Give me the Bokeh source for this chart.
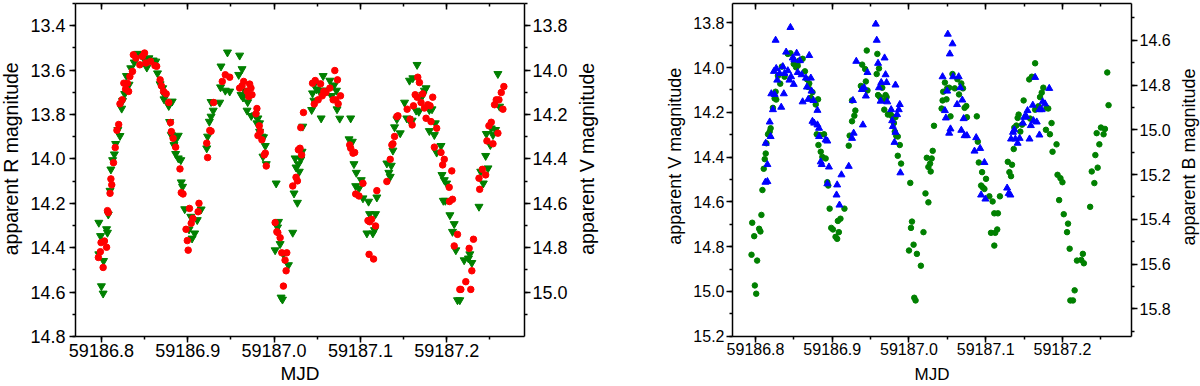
import math
from bokeh.plotting import figure
from bokeh.models import (Range1d, LinearAxis, SingleIntervalTicker, PrintfTickFormatter,
                          CustomJSTickFormatter, Label)
from bokeh.layouts import row
from bokeh.embed import file_html
from bokeh.resources import INLINE

FONT = "Liberation Sans"
H = 386

# ---------------- Left panel: R (red circles) and V (green down-triangles)
left_R_mjd = [
    59186.7965, 59186.7988, 59186.7996, 59186.8035, 59186.8060, 59186.8020, 59186.8070, 59186.8080,
    59186.8100, 59186.8120, 59186.8110, 59186.8140, 59186.8160, 59186.8180, 59186.8200, 59186.8215,
    59186.8240, 59186.8260, 59186.8280, 59186.8315, 59186.8300, 59186.8330, 59186.8360, 59186.8370,
    59186.8400, 59186.8445, 59186.8475, 59186.8500, 59186.8515, 59186.8570, 59186.8620, 59186.8640,
    59186.8680, 59186.8695, 59186.8720, 59186.8750, 59186.8780, 59186.8800, 59186.8810, 59186.8830,
    59186.8860, 59186.8910, 59186.8925, 59186.8945, 59186.9020, 59186.9130, 59186.9120, 59186.9040,
    59186.9060, 59186.8980, 59186.8995, 59186.9005, 59186.9230, 59186.9220, 59186.9255, 59186.9270,
    59186.9300, 59186.9400, 59186.9435,
    59186.9486, 59186.9601, 59186.9629, 59186.9648, 59186.9687, 59186.9717, 59186.9732, 59186.9744,
    59186.9706, 59186.9801, 59186.9790, 59186.9828, 59186.9840, 59186.9813, 59186.9859, 59186.9886,
    59186.9898, 59186.9909, 59187.0012, 59187.0032, 59187.0043, 59187.0070, 59187.0089, 59187.0147,
    59187.0127, 59187.0139, 59187.0108, 59187.0216, 59187.0254, 59187.0270, 59187.0281, 59187.0300,
    59187.0319, 59187.0309, 59187.0340, 59187.0445, 59187.0476, 59187.0465, 59187.0510, 59187.0538,
    59187.0557, 59187.0576, 59187.0600, 59187.0646, 59187.0703, 59187.0734, 59187.0684, 59187.0714,
    59187.0742, 59187.0769, 59187.0876, 59187.0887, 59187.0914, 59187.0933, 59187.0945, 59187.0983,
    59187.1029, 59187.1087, 59187.1106, 59187.1129, 59187.1100, 59187.1152, 59187.1175, 59187.1190,
    59187.1306, 59187.1345, 59187.1364, 59187.1376, 59187.1395, 59187.1422, 59187.1434, 59187.1541,
    59187.1599, 59187.1575, 59187.1614, 59187.1634, 59187.1656, 59187.1664, 59187.1683, 59187.1702,
    59187.1722, 59187.1741, 59187.1760, 59187.1780, 59187.1806, 59187.1837, 59187.1817, 59187.1856,
    59187.1883, 59187.1933, 59187.1952, 59187.1971, 59187.2058, 59187.2031, 59187.2066, 59187.2028,
    59187.2086, 59187.2124, 59187.2151, 59187.2163, 59187.2220, 59187.2259, 59187.2309, 59187.2290,
    59187.2278, 59187.2373, 59187.2381, 59187.2412, 59187.2450, 59187.2465, 59187.2488, 59187.2515,
    59187.2535, 59187.2592, 59187.2553, 59187.2573, 59187.2604, 59187.2650, 59187.2631, 59187.2661,
]
left_R_mag = [
    14.444, 14.418, 14.377, 14.370, 14.398, 14.489, 14.233, 14.242,
    14.155, 14.117, 14.090, 14.017, 13.949, 13.871, 13.845, 13.752,
    13.734, 13.659, 13.686, 13.696, 13.659, 13.629, 13.606, 13.531,
    13.546, 13.576, 13.538, 13.523, 13.568, 13.561, 13.580, 13.583,
    13.644, 13.671, 13.696, 13.707, 13.746, 13.836, 13.877, 13.907,
    13.947, 14.045, 14.152, 14.158, 14.223, 14.200, 14.238, 14.290,
    14.268, 14.317, 14.368, 14.411, 13.994, 13.929, 13.872, 13.875,
    13.746, 13.651, 13.621,
    13.632, 13.681, 13.671, 13.651, 13.696, 13.663, 13.681, 13.711,
    13.719, 13.773, 13.797, 13.851, 13.877, 13.895, 13.914, 13.982,
    13.974, 14.032, 14.287, 14.328, 14.332, 14.355, 14.423, 14.423,
    14.456, 14.504, 14.573, 14.122, 14.083, 14.099, 13.959, 13.952,
    13.982, 13.859, 13.791, 13.659, 13.647, 13.753, 13.734, 13.662,
    13.716, 13.696, 13.701, 13.681, 13.602, 13.644, 13.734, 13.734,
    13.752, 13.716, 13.937, 13.952, 13.974, 13.971, 14.158, 14.167,
    14.110, 14.278, 14.283, 14.272, 14.430, 14.451, 14.302, 14.143,
    14.102, 14.002, 13.937, 13.932, 13.899, 13.809, 13.806, 13.776,
    13.847, 13.821, 13.761, 13.711, 13.722, 13.632, 13.656, 13.746,
    13.707, 13.771, 13.817, 13.756, 13.761, 13.722, 13.832, 13.947,
    13.862, 13.971, 14.027, 14.002, 14.054, 14.192, 14.182, 14.128,
    14.392, 14.340, 14.588, 14.588, 14.553, 14.403, 14.362, 14.504,
    14.588, 14.087, 14.137, 14.047, 14.072, 13.919, 13.851, 13.835,
    13.932, 13.884, 13.756, 13.734, 13.734, 13.776, 13.701, 13.674,
]

left_V_mjd = [
    59186.7970, 59186.7990, 59186.7970, 59186.8025, 59186.8060, 59186.8070, 59186.8000, 59186.8020,
    59186.8080, 59186.8100, 59186.8110, 59186.8130, 59186.8150, 59186.8165, 59186.8190, 59186.8215,
    59186.8235, 59186.8245, 59186.8270, 59186.8290, 59186.8320, 59186.8340, 59186.8380, 59186.8420,
    59186.8457, 59186.8495, 59186.8526, 59186.8550, 59186.8600, 59186.8630, 59186.8650, 59186.8680,
    59186.8710, 59186.8730, 59186.8725, 59186.8780, 59186.8820, 59186.8790, 59186.8810, 59186.8840,
    59186.8860, 59186.8890, 59186.8860, 59186.8890, 59186.8920, 59186.8925, 59186.8940, 59186.8965,
    59186.9035, 59186.9015, 59186.9080, 59186.9050, 59186.9110, 59186.9155, 59186.9220, 59186.9230,
    59186.9250, 59186.9270, 59186.9295, 59186.9270, 59186.9370, 59186.9385, 59186.9380, 59186.9435,
    59186.9460,
    59186.9486, 59186.9601, 59186.9629, 59186.9590, 59186.9617, 59186.9640, 59186.9660, 59186.9694,
    59186.9717, 59186.9687, 59186.9736, 59186.9782, 59186.9813, 59186.9801, 59186.9832, 59186.9832,
    59186.9859, 59186.9878, 59186.9898, 59186.9871, 59186.9909, 59187.0024, 59187.0051, 59187.0040,
    59187.0070, 59187.0012, 59187.0108, 59187.0166, 59187.0081, 59187.0097, 59187.0216, 59187.0270,
    59187.0231, 59187.0243, 59187.0254, 59187.0281, 59187.0292, 59187.0309, 59187.0324, 59187.0332,
    59187.0435, 59187.0461, 59187.0445, 59187.0472, 59187.0492, 59187.0522, 59187.0545, 59187.0568,
    59187.0568, 59187.0607, 59187.0646, 59187.0665, 59187.0695, 59187.0722, 59187.0729, 59187.0760,
    59187.0887, 59187.0868, 59187.0906, 59187.0925, 59187.0952, 59187.1009, 59187.0945, 59187.0983,
    59187.1029, 59187.1094, 59187.1106, 59187.1175, 59187.1075, 59187.1144, 59187.1163, 59187.1190,
    59187.1306, 59187.1329, 59187.1345, 59187.1357, 59187.1376, 59187.1395, 59187.1422, 59187.1461,
    59187.1511, 59187.1537, 59187.1560, 59187.1599, 59187.1568, 59187.1607, 59187.1656, 59187.1645,
    59187.1676, 59187.1702, 59187.1722, 59187.1741, 59187.1760, 59187.1798, 59187.1829, 59187.1798,
    59187.1856, 59187.1867, 59187.1883, 59187.1933, 59187.1944, 59187.1971, 59187.1998, 59187.1960,
    59187.1983, 59187.2036, 59187.2086, 59187.2066, 59187.2105, 59187.2124, 59187.2151, 59187.2201,
    59187.2251, 59187.2267, 59187.2290, 59187.2373, 59187.2423, 59187.2393, 59187.2450, 59187.2477,
    59187.2504, 59187.2458, 59187.2515, 59187.2535, 59187.2565, 59187.2592, 59187.2611,
]
left_V_mag = [
    14.687, 14.747, 14.829, 14.859, 14.716, 14.732, 14.973, 15.006,
    14.650, 14.543, 14.447, 14.405, 14.379, 14.332, 14.269, 14.296,
    14.173, 14.138, 14.107, 14.026, 14.065, 13.991, 13.965, 13.926,
    13.931, 13.950, 13.988, 13.946, 13.956, 13.961, 14.014, 14.063,
    14.081, 14.111, 14.131, 14.161, 14.141, 14.233, 14.292, 14.337,
    14.314, 14.295, 14.377, 14.397, 14.405, 14.505, 14.525, 14.626,
    14.660, 14.717, 14.735, 14.758, 14.675, 14.627, 14.352, 14.299,
    14.232, 14.209, 14.182, 14.143, 14.146, 13.983, 14.077, 14.092,
    13.920,
    14.096, 13.934, 13.995, 14.021, 14.111, 14.123, 14.092, 14.144,
    14.116, 14.182, 14.206, 14.203, 14.217, 14.239, 14.239, 14.277,
    14.299, 14.302, 14.341, 14.389, 14.423, 14.510, 14.683, 14.708,
    14.783, 14.811, 14.829, 14.878, 15.024, 15.033, 14.732, 14.597,
    14.555, 14.397, 14.438, 14.423, 14.457, 14.402, 14.367, 14.254,
    14.179, 14.137, 14.104, 14.059, 14.086, 14.092, 14.217, 14.026,
    14.092, 14.092, 14.047, 14.116, 14.068, 14.092, 14.176, 14.218,
    14.217, 14.311, 14.322, 14.423, 14.462, 14.495, 14.522, 14.532,
    14.577, 14.592, 14.648, 14.648, 14.735, 14.735, 14.720, 14.573,
    14.420, 14.462, 14.480, 14.430, 14.362, 14.257, 14.221, 14.284,
    14.146, 14.217, 14.221, 14.227, 14.047, 14.036, 13.976, 14.182,
    14.187, 14.126, 14.111, 14.092, 14.081, 14.179, 14.176, 14.274,
    14.292, 14.239, 14.371, 14.341, 14.472, 14.495, 14.510, 14.588,
    14.588, 14.653, 14.693, 14.728, 14.811, 15.036, 15.036, 14.856,
    14.848, 14.829, 14.868, 14.615, 14.510, 14.457, 14.386, 14.442,
    14.337, 14.287, 14.262, 14.292, 14.269, 14.017, 14.164,
]

# ---------------- Right panel: V (green circles) and B (blue up-triangles)
right_V_mjd = [
    59186.7957, 59186.7983, 59186.7948, 59186.8021, 59186.8047, 59186.8064, 59186.7991, 59186.8009,
    59186.8077, 59186.8090, 59186.8107, 59186.8120, 59186.8133, 59186.8142, 59186.8163, 59186.8197,
    59186.8185, 59186.8227, 59186.8249, 59186.8262, 59186.8270, 59186.8322, 59186.8292, 59186.8343,
    59186.8378, 59186.8421, 59186.8455, 59186.8498, 59186.8528, 59186.8550, 59186.8571, 59186.8614,
    59186.8644, 59186.8670, 59186.8700, 59186.8687, 59186.8721, 59186.8742, 59186.8785, 59186.8815,
    59186.8798, 59186.8820, 59186.8841, 59186.8850, 59186.8871, 59186.8914, 59186.8893, 59186.8936,
    59186.8948, 59186.8966, 59186.8987, 59186.9009, 59186.9043, 59186.9064, 59186.9086, 59186.9073,
    59186.9107, 59186.9159, 59186.9215, 59186.9227, 59186.9258, 59186.9288, 59186.9301, 59186.9258,
    59186.9373, 59186.9390, 59186.9429, 59186.9450,
    59186.9459, 59186.9438, 59186.9395, 59186.9579, 59186.9588, 59186.9609, 59186.9597, 59186.9622,
    59186.9652, 59186.9682, 59186.9695, 59186.9708, 59186.9678, 59186.9725, 59186.9760, 59186.9781,
    59186.9803, 59186.9824, 59186.9815, 59186.9833, 59186.9854, 59186.9880, 59186.9854, 59186.9897,
    59187.0017, 59187.0039, 59187.0026, 59187.0060, 59187.0000, 59187.0103, 59187.0155, 59187.0069,
    59187.0086, 59187.0189, 59187.0215, 59187.0253, 59187.0232, 59187.0253, 59187.0275, 59187.0296,
    59187.0283, 59187.0309, 59187.0326, 59187.0425, 59187.0438, 59187.0446, 59187.0468, 59187.0489,
    59187.0498, 59187.0524, 59187.0541, 59187.0567, 59187.0597, 59187.0631, 59187.0652, 59187.0682,
    59187.0704, 59187.0725, 59187.0747, 59187.0755, 59187.0884, 59187.0897, 59187.0910, 59187.0953,
    59187.0940, 59187.0961, 59187.0983, 59187.1004, 59187.1047, 59187.1090, 59187.1112, 59187.1069,
    59187.1124, 59187.1112,
    59187.1159, 59187.1150, 59187.1185, 59187.1288, 59187.1343, 59187.1309, 59187.1330, 59187.1365,
    59187.1373, 59187.1400, 59187.1451, 59187.1473, 59187.1416, 59187.1429, 59187.1494, 59187.1567,
    59187.1601, 59187.1579, 59187.1644, 59187.1644, 59187.1687, 59187.1708, 59187.1730, 59187.1751,
    59187.1794, 59187.1815, 59187.1785, 59187.1837, 59187.1858, 59187.1871, 59187.1923, 59187.1936,
    59187.1974, 59187.2000, 59187.1957, 59187.2017, 59187.2073, 59187.2060, 59187.2094, 59187.2159,
    59187.2103, 59187.2137, 59187.2189, 59187.2245, 59187.2266, 59187.2279, 59187.2361, 59187.2382,
    59187.2416, 59187.2429, 59187.2459, 59187.2446, 59187.2481, 59187.2502, 59187.2536, 59187.2554,
    59187.2584, 59187.2601,
]
right_V_mag = [
    14.693, 14.753, 14.836, 14.862, 14.720, 14.732, 14.973, 15.010,
    14.658, 14.547, 14.452, 14.409, 14.384, 14.338, 14.298, 14.271,
    14.286, 14.180, 14.138, 14.108, 14.143, 14.072, 14.037, 13.996,
    14.041, 13.939, 13.936, 13.984, 13.999, 13.992, 13.969, 13.961,
    14.017, 14.052, 14.071, 14.087, 14.135, 14.110, 14.165, 14.142,
    14.298, 14.346, 14.301, 14.376, 14.399, 14.406, 14.298, 14.512,
    14.527, 14.630, 14.716, 14.723, 14.756, 14.765, 14.735, 14.685,
    14.675, 14.630, 14.349, 14.304, 14.240, 14.215, 14.192, 14.147,
    14.082, 13.987, 14.007, 13.924,
    14.102, 14.062, 14.093, 14.029, 13.939, 14.004, 14.123, 14.132,
    14.090, 14.147, 14.123, 14.132, 14.188, 14.210, 14.210, 14.218,
    14.248, 14.222, 14.286, 14.304, 14.308, 14.346, 14.394, 14.429,
    14.515, 14.688, 14.716, 14.791, 14.817, 14.832, 14.885, 15.028,
    15.040, 14.735, 14.562, 14.602, 14.403, 14.444, 14.429, 14.406,
    14.464, 14.372, 14.260, 14.183, 14.147, 14.108, 14.067, 14.142,
    14.093, 14.090, 14.218, 14.029, 14.093, 14.052, 14.120, 14.071,
    14.093, 14.180, 14.172, 14.222, 14.218, 14.331, 14.424, 14.467,
    14.527, 14.535, 14.542, 14.497, 14.575, 14.598, 14.651, 14.738,
    14.738, 14.795,
    14.651, 14.723, 14.575, 14.421, 14.434, 14.467, 14.485, 14.364,
    14.268, 14.259, 14.286, 14.255, 14.225, 14.210, 14.147, 14.053,
    14.041, 14.228, 13.981, 14.188, 14.173, 14.132, 14.112, 14.090,
    14.180, 14.183, 14.278, 14.298, 14.248, 14.376, 14.343, 14.479,
    14.494, 14.512, 14.592, 14.655, 14.697, 14.735, 14.809, 14.995,
    15.040, 15.040, 14.862, 14.859, 14.832, 14.874, 14.622, 14.464,
    14.516, 14.391, 14.447, 14.293, 14.343, 14.268, 14.298, 14.274,
    14.022, 14.168,
]

right_B_mjd = [
    59186.8129, 59186.8155, 59186.8155, 59186.8133, 59186.8197, 59186.8185, 59186.8206, 59186.8227,
    59186.8249, 59186.8335, 59186.8262, 59186.8283, 59186.8240, 59186.8270, 59186.8313, 59186.8356,
    59186.8378, 59186.8369, 59186.8399, 59186.8421, 59186.8455, 59186.8442, 59186.8464, 59186.8485,
    59186.8498, 59186.8506, 59186.8536, 59186.8550, 59186.8579, 59186.8601, 59186.8614, 59186.8657,
    59186.8670, 59186.8700, 59186.8687, 59186.8721, 59186.8730, 59186.8755, 59186.8807, 59186.8742,
    59186.8764, 59186.8807, 59186.8828, 59186.8828, 59186.8914, 59186.8936, 59186.8850, 59186.8863,
    59186.8957, 59186.8936, 59186.9064, 59186.9056, 59186.9094, 59186.9120, 59186.9215, 59186.9258,
    59186.9279, 59186.9270, 59186.9313, 59186.9399, 59186.9386, 59186.9416,
    59186.9459, 59186.9438, 59186.9567, 59186.9580, 59186.9597, 59186.9682, 59186.9609, 59186.9639,
    59186.9695, 59186.9708, 59186.9631, 59186.9717, 59186.9824, 59186.9768, 59186.9781, 59186.9845,
    59186.9867, 59186.9880, 59186.9790, 59186.9824, 59186.9811, 59186.9888,
    59187.0438, 59187.0506, 59187.0567, 59187.0532, 59187.0575, 59187.0648, 59187.0498, 59187.0669,
    59187.0695, 59187.0468, 59187.0481, 59187.0627, 59187.0712, 59187.0541, 59187.0524, 59187.0682,
    59187.0725, 59187.0755, 59187.0876, 59187.0854, 59187.0927, 59187.0983, 59187.0940, 59187.0996,
    59187.1279, 59187.1300, 59187.1322, 59187.1330, 59187.1356, 59187.1373, 59187.1386, 59187.1416,
    59187.1442, 59187.1485, 59187.1502, 59187.1528, 59187.1545, 59187.1571, 59187.1588, 59187.1614,
    59187.1622, 59187.1644, 59187.1665, 59187.1700, 59187.1700, 59187.1730, 59187.1742, 59187.1773,
    59187.1828,
]
right_B_mag = [
    15.234, 15.231, 15.155, 15.060, 15.030, 14.965, 14.839, 14.910,
    14.842, 14.899, 14.600, 14.778, 14.739, 14.726, 14.748, 14.718,
    14.748, 14.839, 14.653, 14.736, 14.543, 14.778, 14.763, 14.679,
    14.797, 14.688, 14.658, 14.744, 14.691, 14.754, 14.875, 14.769,
    14.809, 14.668, 14.864, 14.769, 14.827, 14.869, 14.913, 14.962,
    14.970, 14.978, 14.993, 15.030, 15.045, 15.050, 15.143, 15.155,
    15.166, 15.241, 15.246, 15.291, 15.336, 15.201, 15.163, 15.038,
    15.015, 14.869, 14.694, 14.978, 14.820, 14.812,
    14.744, 14.849, 14.528, 14.600, 14.703, 14.679, 14.812, 14.789,
    14.754, 14.789, 14.872, 14.875, 14.800, 14.910, 14.959, 14.932,
    14.910, 14.887, 14.985, 15.011, 15.056, 15.192,
    14.763, 14.573, 14.616, 14.661, 14.763, 14.763, 14.827, 14.812,
    14.867, 14.914, 14.947, 14.887, 14.950, 14.996, 15.015, 15.002,
    15.026, 15.026, 15.035, 15.095, 15.083, 15.146, 15.291, 15.309,
    15.260, 15.284, 15.291, 15.041, 15.011, 15.000, 15.041, 15.060,
    15.038, 14.970, 14.944, 14.940, 14.914, 15.041, 14.981, 14.890,
    14.959, 14.766, 14.965, 15.023, 14.910, 14.910, 14.875, 14.884,
    14.815,
]

X_RANGE = (59186.77, 59187.29)


def style_axis(ax, tick_px, inward=False, show_labels=True, tick_standoff=3):
    ax.axis_line_color = "black"
    ax.axis_line_width = 1.5
    ax.major_tick_line_color = "black"
    ax.major_tick_line_width = 1.5
    ax.minor_tick_line_color = "black"
    ax.minor_tick_line_width = 1.5
    if inward:
        ax.major_tick_in, ax.major_tick_out = 6, 0
        ax.minor_tick_in, ax.minor_tick_out = 3, 0
    else:
        ax.major_tick_in, ax.major_tick_out = 0, 6
        ax.minor_tick_in, ax.minor_tick_out = 0, 3
    ax.major_label_text_font = FONT
    ax.major_label_text_color = "black"
    if show_labels:
        ax.major_label_text_font_size = f"{tick_px}px"
        ax.major_label_standoff = tick_standoff
    else:
        ax.formatter = CustomJSTickFormatter(code="return ''")
        ax.major_label_text_font_size = "1px"
        ax.major_label_standoff = 0


def make_panel(width, bl, br, bt, left_range, right_range, tick_px, mjd_px, mjd_standoff,
               x_standoff):
    p = figure(width=width, height=H, x_range=Range1d(*X_RANGE),
               y_range=Range1d(*left_range), output_backend="svg", toolbar_location=None,
               min_border_left=bl, min_border_right=br, min_border_top=bt, min_border_bottom=20)
    p.xgrid.visible = False
    p.ygrid.visible = False
    p.outline_line_color = None
    p.background_fill_color = "white"
    p.border_fill_color = "white"
    p.extra_y_ranges = {"r": Range1d(*right_range)}

    fmt = PrintfTickFormatter(format="%.1f")

    xa = p.xaxis[0]
    xa.ticker = SingleIntervalTicker(interval=0.1, num_minor_ticks=2)
    xa.formatter = fmt
    style_axis(xa, tick_px, tick_standoff=x_standoff)
    xa.axis_label = "MJD"
    xa.axis_label_text_font = FONT
    xa.axis_label_text_font_size = f"{mjd_px}px"
    xa.axis_label_text_font_style = "normal"
    xa.axis_label_text_color = "black"
    xa.axis_label_standoff = mjd_standoff

    ya = p.yaxis[0]
    ya.ticker = SingleIntervalTicker(interval=0.2, num_minor_ticks=2)
    ya.formatter = fmt
    style_axis(ya, tick_px, tick_standoff=4 if tick_px > 17 else 2)

    ra = LinearAxis(y_range_name="r", ticker=SingleIntervalTicker(interval=0.2, num_minor_ticks=2),
                    formatter=PrintfTickFormatter(format="%.1f"))
    style_axis(ra, tick_px, tick_standoff=2)
    p.add_layout(ra, "right")

    ta = LinearAxis(ticker=SingleIntervalTicker(interval=0.1, num_minor_ticks=2))
    style_axis(ta, tick_px, inward=True, show_labels=False)
    p.add_layout(ta, "above")
    return p


def title_strip(width, labels):
    """A narrow text-only figure holding rotated axis titles: (text, x, y_from_top, size)."""
    t = figure(width=width, height=H, x_range=Range1d(0, width), y_range=Range1d(H, 0),
               output_backend="svg", toolbar_location=None, min_border=0,
               x_axis_location=None, y_axis_location=None)
    t.outline_line_color = None
    t.xgrid.visible = False
    t.ygrid.visible = False
    t.border_fill_color = "white"
    t.background_fill_color = "white"
    for text, x, y, size in labels:
        t.add_layout(Label(x=x, y=y, text=text, angle=math.pi / 2, text_align="center",
                           text_baseline="middle", text_font=FONT,
                           text_font_size=f"{size}px", text_color="black"))
    return t


# page x: 0..27 title | 27..570 left panel (frame 72..525) | 570..690 titles |
#         690..1173 right panel (frame 730..1134) | 1173..1200 title
t1 = title_strip(27, [("apparent R magnitude", 10, 180, 19.5)])

p1 = make_panel(543, 45, 45, 0, (14.8, 13.3), (15.2, 13.7), 18, 19, 3, 1)
p1.scatter(left_V_mjd, left_V_mag, marker="inverted_triangle", size=8,
           color="#008000", y_range_name="r")
p1.scatter(left_R_mjd, left_R_mag, marker="circle", size=6.5, color="#ff0000")

t2 = title_strip(120, [("apparent V magnitude", 16, 180, 19.5),
                       ("apparent V magnitude", 104, 177, 18)])

p2 = make_panel(483, 40, 39, 3, (15.201, 13.714), (15.923, 14.436), 16, 17, 7, 0)
p2.scatter(right_V_mjd, right_V_mag, marker="circle", size=5.5, color="#008000")
p2.scatter(right_B_mjd, right_B_mag, marker="triangle", size=7,
           color="#0000ff", y_range_name="r")

t3 = title_strip(27, [("apparent B magnitude", 15, 178, 18)])

layout = row(t1, p1, t2, p2, t3)
open("out.html", "w").write(file_html(layout, INLINE))
